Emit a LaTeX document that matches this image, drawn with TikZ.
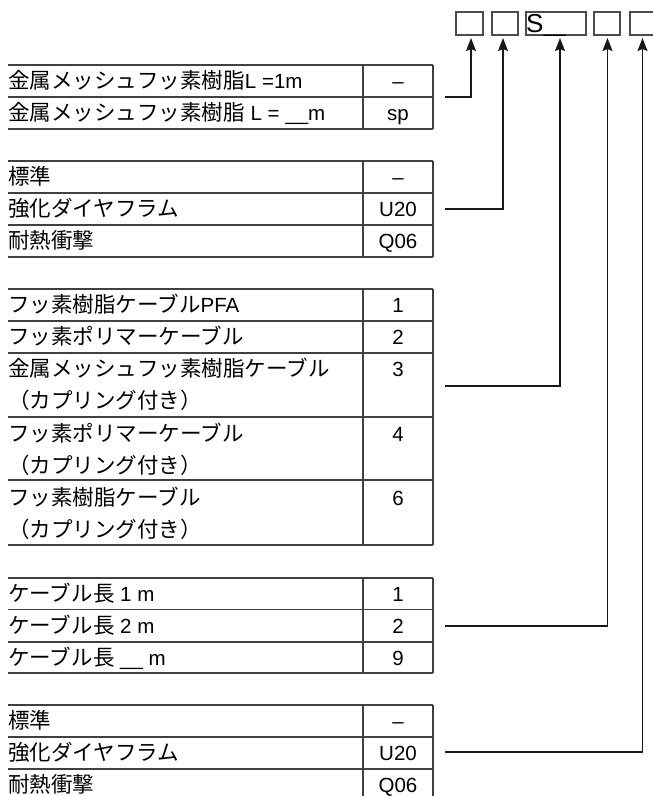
\documentclass[tikz,border=0pt]{standalone}
\usepackage{fontspec}
\setmainfont{Liberation Sans}
\newfontfamily\cjk{Noto Sans CJK JP}[Scale=1.05]
\usetikzlibrary{arrows.meta}
\begin{document}
\begin{tikzpicture}[x=1pt,y=-1pt,
  tl/.style={anchor=base west, inner sep=0pt, font=\fontsize{20.5}{24}\selectfont, text=black},
  tc/.style={anchor=base, inner sep=0pt, font=\fontsize{20.5}{24}\selectfont, text=black},
  gridline/.style={line width=1.1pt, draw=black!75},
  conn/.style={line width=1.1pt, draw=black!90, -{Stealth[length=13pt,width=10pt,inset=2pt]}},
  codebox/.style={draw=black!70, line width=1.1pt, minimum height=23pt, inner sep=0pt}]
\useasboundingbox (0,0) rectangle (653,796);

% top code boxes
\node[codebox, minimum width=27pt] (b1) at (469.5,23.5) {};
\node[codebox, minimum width=26pt] (b2) at (505,23.5) {};
\node[codebox, minimum width=60pt] (b3) at (556,23.5) {};
\node[codebox, minimum width=26pt] (b4) at (607,23.5) {};
\node[codebox, minimum width=26pt] (b5) at (643,23.5) {};
\node[anchor=base west, inner sep=0pt, font=\fontsize{26}{26}\selectfont, text=black] (s) at (526,32) {S{\fontsize{20}{20}\selectfont\_\_}};

% arrow tips
\coordinate (a1) at (471,38);
\coordinate (a2) at (503,38);
\coordinate (a3) at (560,38);
\coordinate (a4) at (607.5,38);
\coordinate (a5) at (642.5,38);

% table 1
\foreach \y in {65,97,129} \draw[gridline] (8,\y) -- (433,\y);
\draw[gridline] (363,65) -- (363,129) (433,65) -- (433,129);
\node[tl] (t1a) at (8,88.5) {{\cjk 金属メッシュフッ素樹脂}L =1m};
\node[tc] (k1a) at (398,88.5) {–};
\node[tl] (t1b) at (8,120.5) {{\cjk 金属メッシュフッ素樹脂} L = \_\_m};
\node[tc] (k1b) at (398,120.5) {sp};

% table 2
\foreach \y in {161,193,225,257} \draw[gridline] (8,\y) -- (433,\y);
\draw[gridline] (363,161) -- (363,257) (433,161) -- (433,257);
\node[tl] (t2a) at (8,184.5) {\cjk 標準};
\node[tc] (k2a) at (398,184.5) {–};
\node[tl] (t2b) at (8,216.5) {\cjk 強化ダイヤフラム};
\node[tc] (k2b) at (398,216.5) {U20};
\node[tl] (t2c) at (8,248.5) {\cjk 耐熱衝撃};
\node[tc] (k2c) at (398,248.5) {Q06};

% table 3
\foreach \y in {289,321,353,417,480,545} \draw[gridline] (8,\y) -- (433,\y);
\draw[gridline] (363,289) -- (363,545) (433,289) -- (433,545);
\node[tl] (t3a) at (8,312.5) {{\cjk フッ素樹脂ケーブル}PFA};
\node[tc] (k3a) at (398,312.5) {1};
\node[tl] (t3b) at (8,344.5) {\cjk フッ素ポリマーケーブル};
\node[tc] (k3b) at (398,344.5) {2};
\node[tl] (t3c) at (8,376.5) {\cjk 金属メッシュフッ素樹脂ケーブル};
\node[tl] (t3c2) at (8,408) {\cjk （カプリング付き）};
\node[tc] (k3c) at (398,376.5) {3};
\node[tl] (t3d) at (8,441.5) {\cjk フッ素ポリマーケーブル};
\node[tl] (t3d2) at (8,473.5) {\cjk （カプリング付き）};
\node[tc] (k3d) at (398,441.5) {4};
\node[tl] (t3e) at (8,505) {\cjk フッ素樹脂ケーブル};
\node[tl] (t3e2) at (8,537) {\cjk （カプリング付き）};
\node[tc] (k3e) at (398,505) {6};

% table 4
\foreach \y in {578,609.5,642,673} \draw[gridline] (8,\y) -- (433,\y);
\draw[gridline] (363,578) -- (363,673) (433,578) -- (433,673);
\node[tl] (t4a) at (8,601.5) {{\cjk ケーブル長} 1 m};
\node[tc] (k4a) at (398,601.5) {1};
\node[tl] (t4b) at (8,633) {{\cjk ケーブル長} 2 m};
\node[tc] (k4b) at (398,633) {2};
\node[tl] (t4c) at (8,665.5) {{\cjk ケーブル長} \_\_ m};
\node[tc] (k4c) at (398,665.5) {9};

% table 5
\foreach \y in {705,737,769,801} \draw[gridline] (8,\y) -- (433,\y);
\draw[gridline] (363,705) -- (363,801) (433,705) -- (433,801);
\node[tl] (t5a) at (8,728.5) {\cjk 標準};
\node[tc] (k5a) at (398,728.5) {–};
\node[tl] (t5b) at (8,760.5) {\cjk 強化ダイヤフラム};
\node[tc] (k5b) at (398,760.5) {U20};
\node[tl] (t5c) at (8,792.5) {\cjk 耐熱衝撃};
\node[tc] (k5c) at (398,792.5) {Q06};

% connectors
\coordinate (c1) at (445,97);
\coordinate (c2) at (445,209);
\coordinate (c3) at (445,386);
\coordinate (c4) at (445,626);
\coordinate (c5) at (445,752);
\draw[conn] (c1) -| (a1);
\draw[conn] (c2) -| (a2);
\draw[conn] (c3) -| (a3);
\draw[conn] (c4) -| (a4);
\draw[conn] (c5) -| (a5);
\end{tikzpicture}
\end{document}
